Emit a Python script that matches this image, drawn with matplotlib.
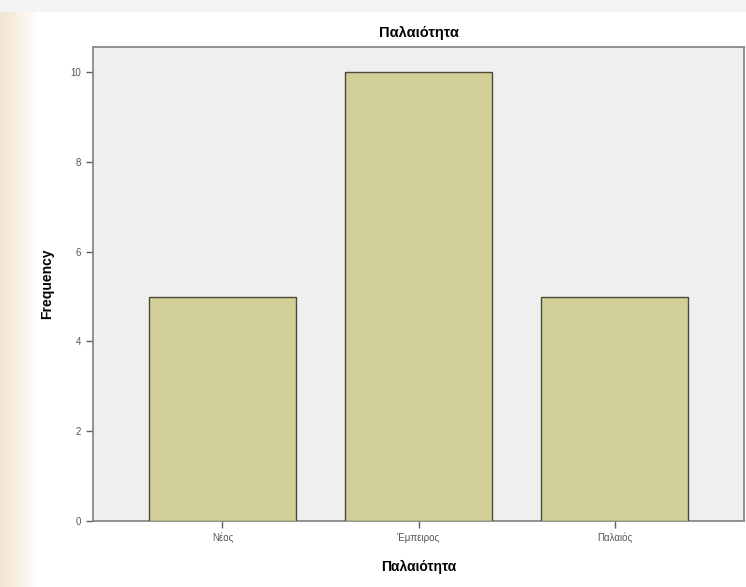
import matplotlib
matplotlib.use("Agg")
import matplotlib.pyplot as plt
import numpy as np

categories = ["Νέος", "Έμπειρος", "Παλαιός"]
frequencies = [5, 10, 5]
yticks = [0, 2, 4, 6, 8, 10]

plt.rcParams["font.family"] = ["Liberation Sans", "DejaVu Sans"]

fig = plt.figure(figsize=(7.46, 5.87), dpi=100, facecolor="white")

# faint beige fade on left edge and light band at top
bg = fig.add_axes([0, 0, 1, 1], zorder=-10)
bg.axis("off")
w = np.zeros((1, 746, 4))
w[..., :3] = [0.93, 0.87, 0.78]
x = np.arange(746)
w[0, :, 3] = np.clip(1 - x / 38.0, 0, 1) * 0.8
bg.axhspan(0.98, 1.0, color="#f4f4f4", lw=0)
bg.imshow(w, aspect="auto", extent=[0, 1, 0, 1])
bg.set_xlim(0, 1); bg.set_ylim(0, 1)

ax = fig.add_axes([93/746, (587-521)/587, (744-93)/746, (521-47)/587])
ax.set_facecolor("#efefef")
xpos = np.arange(len(categories))
ax.bar(xpos, frequencies, width=0.75, color="#d3cf98", edgecolor="#4a4a3a", linewidth=1.0, zorder=3)
ax.set_xlim(-0.66, 2.66)
ax.set_ylim(0, 10.56)
ax.set_xticks(xpos)
ax.set_xticklabels(categories, fontsize=7, color="#555555")
ax.set_yticks(yticks)
ax.set_yticklabels([str(t) for t in yticks], fontsize=7, color="#555555")
for s in ax.spines.values():
    s.set_color("#808080")
    s.set_linewidth(1.2)
ax.tick_params(axis="both", length=5, color="#606060", width=1)
ax.set_xlabel("Παλαιότητα", fontsize=10, fontweight="bold", labelpad=12)
ax.set_ylabel("Frequency", fontsize=10, fontweight="bold", labelpad=12)
ax.set_title("Παλαιότητα", fontsize=10.5, fontweight="bold", pad=7)

fig.savefig("out.png", dpi=100, facecolor=fig.get_facecolor())
